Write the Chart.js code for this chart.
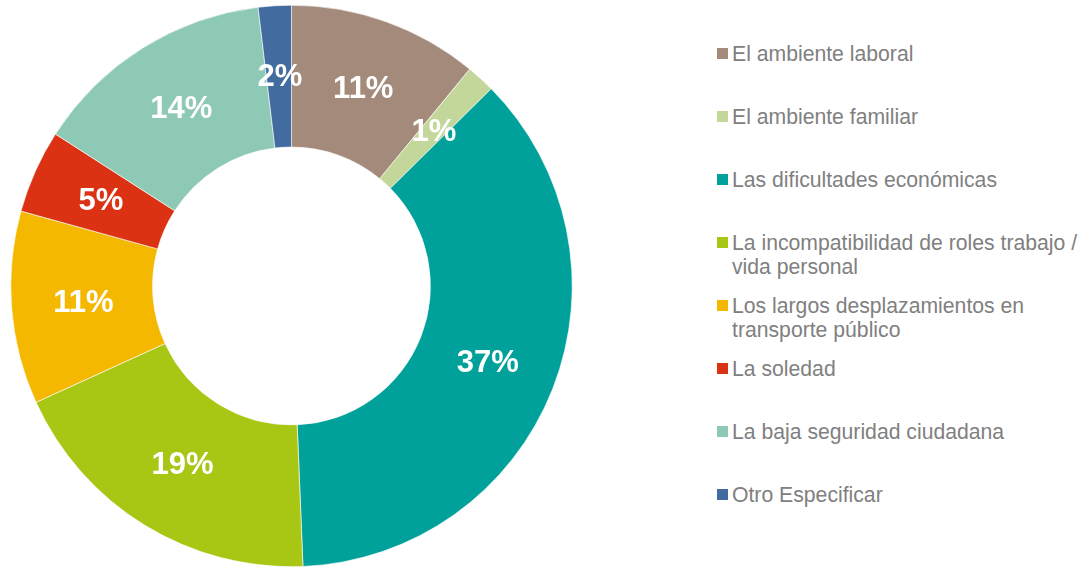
<!DOCTYPE html>
<html>
<head>
<meta charset="utf-8">
<script src="https://cdn.jsdelivr.net/npm/chart.js@4/dist/chart.umd.min.js"></script>
<style>
  html, body { margin:0; padding:0; background:#fff; }
  body { width:1082px; height:567px; position:relative; overflow:hidden; font-family:"Liberation Sans", Arial, sans-serif; }
  #wrap { position:absolute; left:10px; top:5px; width:563px; height:562px; }
  #legend { position:absolute; left:717px; top:0; width:365px; }
  .item { position:absolute; left:0; display:flex; align-items:flex-start; color:#808080; font-size:21.2px; line-height:24px; white-space:nowrap; }
  .sw { width:11px; height:11px; margin-top:6px; margin-right:4px; flex:none; }
</style>
</head>
<body>
<div id="wrap"><canvas id="c"></canvas></div>
<div id="legend"></div>
<script>
const categories = [
  ["El ambiente laboral"],
  ["El ambiente familiar"],
  ["Las dificultades económicas"],
  ["La incompatibilidad de roles trabajo /", "vida personal"],
  ["Los largos desplazamientos en", "transporte público"],
  ["La soledad"],
  ["La baja seguridad ciudadana"],
  ["Otro Especificar"]
];
const values = [10.95, 1.65, 36.75, 18.85, 11.1, 4.8, 14.0, 1.9];
const pctLabels = ["11%", "1%", "37%", "19%", "11%", "5%", "14%", "2%"];
const colors = ["#A38A7A", "#C4D79B", "#00A19A", "#A8C614", "#F4B800", "#DA3213", "#8EC9B5", "#426BA0"];

const labelPlugin = {
  id: 'sliceLabels',
  afterDatasetsDraw(chart) {
    const ctx = chart.ctx;
    const meta = chart.getDatasetMeta(0);
    ctx.save();
    ctx.fillStyle = '#ffffff';
    ctx.font = 'bold 31px "Liberation Sans", Arial, sans-serif';
    ctx.textAlign = 'center';
    ctx.textBaseline = 'middle';
    meta.data.forEach((arc, i) => {
      const p = arc.tooltipPosition();
      ctx.fillText(pctLabels[i], p.x + 1, p.y + 1);
    });
    ctx.restore();
  }
};

new Chart(document.getElementById('c'), {
  type: 'doughnut',
  data: {
    labels: categories,
    datasets: [{
      data: values,
      backgroundColor: colors,
      borderColor: '#ffffff',
      borderWidth: 0.6
    }]
  },
  options: {
    responsive: true,
    maintainAspectRatio: false,
    animation: false,
    cutout: '49.5%',
    layout: { padding: 0 },
    plugins: {
      legend: { display: false },
      tooltip: { enabled: false }
    }
  },
  plugins: [labelPlugin]
});

const legend = document.getElementById('legend');
categories.forEach((lines, i) => {
  const d = document.createElement('div');
  d.className = 'item';
  d.style.top = (42 + i * 63) + 'px';
  const sw = document.createElement('span');
  sw.className = 'sw';
  sw.style.background = colors[i];
  const t = document.createElement('span');
  t.innerHTML = lines.join('<br>');
  d.appendChild(sw);
  d.appendChild(t);
  legend.appendChild(d);
});
</script>
</body>
</html>
